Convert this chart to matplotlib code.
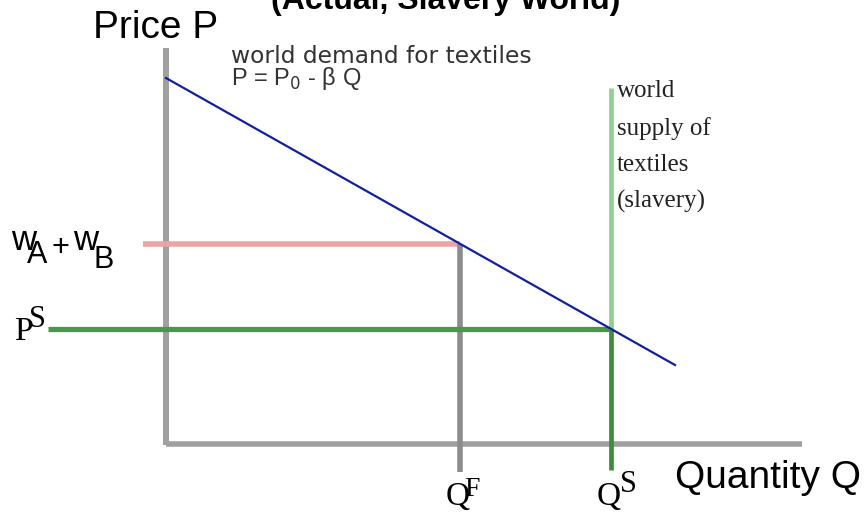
import matplotlib
matplotlib.use('Agg')
import matplotlib.pyplot as plt

# values (arbitrary units, origin where the axes cross)
demand_q = [0.0, 10.18]
demand_p = [7.32, 1.58]   # starts at P0
wage_sum = 4.0            # wA + wB
p_s = 2.3                 # slavery price
q_f = 5.88
q_s = 8.9
supply_top = 7.12

axis_q_max = 12.72
axis_p_max = 7.92

# pixel -> data helper (1 unit = 50 px, origin at pixel (166, 444))
def at(px, py):
    return ((px - 166) / 50, (444 - py) / 50)

fig = plt.figure(figsize=(8.65, 5.16), dpi=100)
ax = fig.add_axes([0, 0, 1, 1])
ax.set_xlim(-166 / 50, (865 - 166) / 50)
ax.set_ylim((444 - 516) / 50, 444 / 50)
ax.axis('off')

gray = '#a0a0a0'

# axes
ax.plot([0, 0], [-0.02, axis_p_max], color=gray, lw=4.3, solid_capstyle='butt', zorder=1)
ax.plot([0, axis_q_max], [0, 0], color=gray, lw=4.0, solid_capstyle='butt', zorder=1)

# wage line and Q^F drop
ax.plot([-0.46, q_f], [wage_sum, wage_sum], color='#eba3a3', lw=4.0, solid_capstyle='butt', zorder=2)
ax.plot([q_f, q_f], [wage_sum, -0.56], color='#8c8c8c', lw=4.0, solid_capstyle='butt', zorder=2)

# slavery price line
ax.plot([-2.36, q_s], [p_s, p_s], color='#4a964a', lw=3.8, solid_capstyle='butt', zorder=2)

# world supply (vertical)
ax.plot([q_s, q_s], [supply_top, p_s], color='#92cf92', lw=3.4, solid_capstyle='butt', zorder=2)
ax.plot([q_s, q_s], [p_s, -0.52], color='#3f8c3f', lw=3.4, solid_capstyle='butt', zorder=2)

# demand
ax.plot(demand_q, demand_p, color='#1020a0', lw=1.6, zorder=3)

sans = 'Liberation Sans'
serif = 'Liberation Serif'

ax.text(*at(446, 9), '(Actual, Slavery World)', family=sans, fontweight='bold',
        fontsize=23, ha='center', va='baseline')
ax.text(*at(93, 38), 'Price P', family=sans, fontsize=28, ha='left', va='baseline')
ax.text(*at(675, 488), 'Quantity Q', family=sans, fontsize=28, ha='left', va='baseline')

ax.text(*at(231, 63), 'world demand for textiles', family='DejaVu Sans', fontsize=16.8,
        ha='left', va='baseline', color='#333333')
ax.text(*at(231, 85), 'P = P$_0$ - β Q', family=sans, fontsize=17,
        ha='left', va='baseline', color='#333333')

ax.text(*at(617, 80), 'world\nsupply of\ntextiles\n(slavery)', family=serif,
        fontsize=18, ha='left', va='top', linespacing=1.82, color='#222222')

# wA + wB label
ax.text(*at(11, 250), 'w', family=sans, fontsize=25, ha='left', va='baseline')
ax.text(*at(27, 263), 'A', family=sans, fontsize=22, ha='left', va='baseline')
ax.text(*at(51, 256), '+', family=sans, fontsize=22, ha='left', va='baseline')
ax.text(*at(73, 250), 'w', family=sans, fontsize=25, ha='left', va='baseline')
ax.text(*at(93, 268), 'B', family=sans, fontsize=22, ha='left', va='baseline')

# P^S label
ax.text(*at(14, 340), 'P', family=serif, fontsize=24, ha='left', va='baseline')
ax.text(*at(29, 327), 'S', family=serif, fontsize=22, ha='left', va='baseline')

# Q^F and Q^S labels
ax.text(*at(446, 505), 'Q', family=serif, fontsize=24, ha='left', va='baseline')
ax.text(*at(464, 496), 'F', family=serif, fontsize=20, ha='left', va='baseline')
ax.text(*at(597, 505), 'Q', family=serif, fontsize=24, ha='left', va='baseline')
ax.text(*at(620, 492), 'S', family=serif, fontsize=22, ha='left', va='baseline')

fig.savefig('out.png', dpi=100)
